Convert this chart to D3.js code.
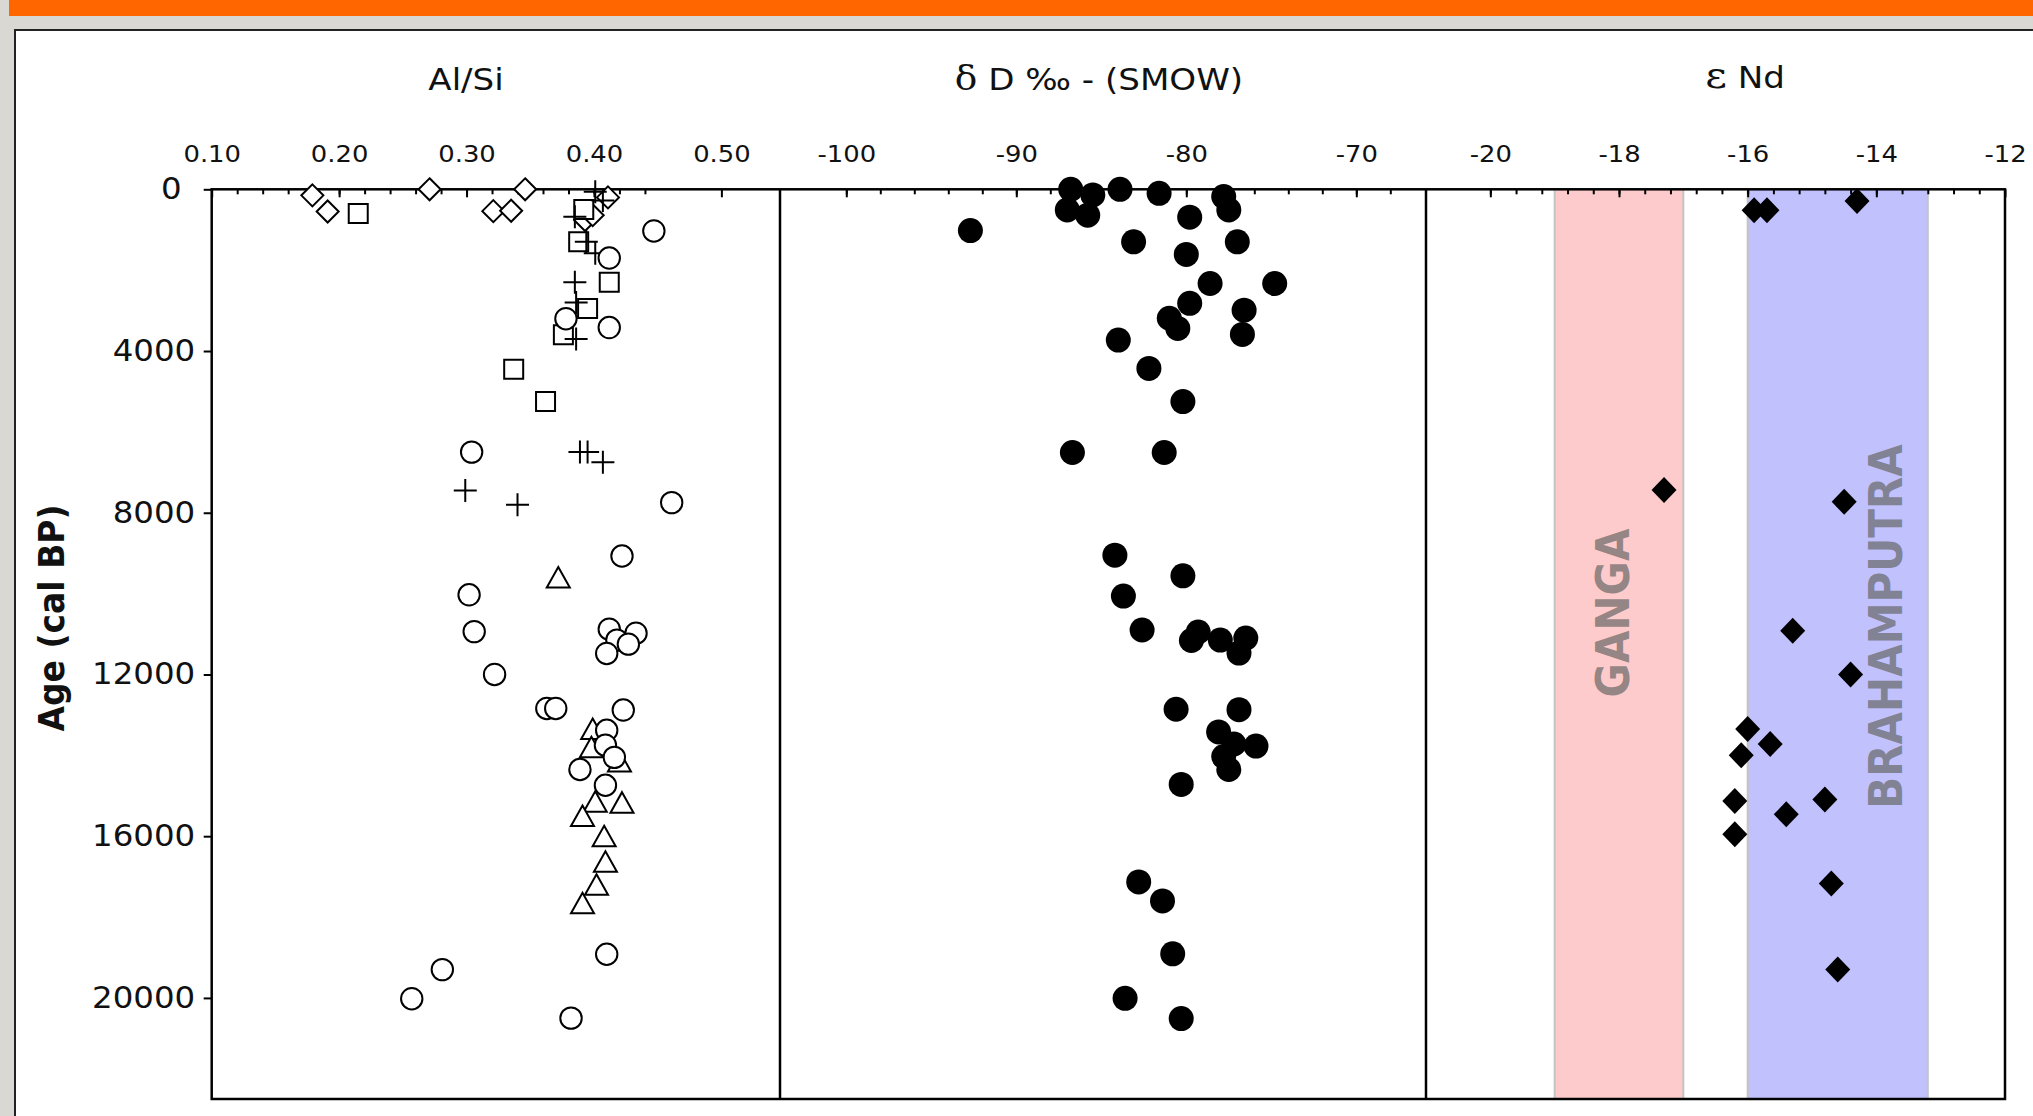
<!DOCTYPE html>
<html>
<head>
<meta charset="utf-8">
<script src="https://cdn.jsdelivr.net/npm/d3@7"></script>
<style>
  body { margin: 0; background: #d9d8d3; }
  svg { display: block; font-family: "DejaVu Sans", Verdana, sans-serif; }
</style>
</head>
<body>
<script>
// Tick labels
const ageTicks = [0, 4000, 8000, 12000, 16000, 20000];
const alsiTicks = [0.10, 0.20, 0.30, 0.40, 0.50];
const ddTicks = [-100, -90, -80, -70];
const ndTicks = [-20, -18, -16, -14, -12];

// Al/Si, one list per marker type: [Al/Si, age cal BP]
const alsiDiamond = [[0.179,150],[0.191,550],[0.271,0],[0.321,540],[0.335,530],[0.346,0],[0.393,760],[0.399,640],[0.411,200]];
const alsiSquare = [[0.215,600],[0.392,500],[0.388,1300],[0.412,2300],[0.395,2950],[0.376,3600],[0.337,4450],[0.362,5250]];
const alsiPlus = [[0.401,60],[0.407,280],[0.385,680],[0.394,1300],[0.401,1580],[0.385,2300],[0.386,2800],[0.386,3700],
                  [0.389,6500],[0.395,6500],[0.407,6750],[0.299,7450],[0.340,7800]];
const alsiTriangle = [[0.372,9600],[0.399,13350],[0.398,13800],[0.420,14150],[0.401,15150],[0.422,15170],[0.391,15500],
                      [0.408,16000],[0.409,16630],[0.402,17200],[0.391,17660]];
const alsiCircle = [[0.447,1030],[0.412,1700],[0.378,3200],[0.412,3420],[0.304,6500],[0.461,7750],[0.422,9070],[0.302,10030],
                    [0.306,10940],[0.412,10880],[0.418,11150],[0.433,10980],[0.427,11250],[0.410,11480],[0.322,12000],
                    [0.363,12840],[0.370,12840],[0.423,12880],[0.410,13380],[0.409,13750],[0.416,14050],[0.389,14350],
                    [0.409,14740],[0.410,18920],[0.281,19300],[0.257,20020],[0.382,20500]];

// delta D (permil SMOW): [value, age]
const deltaD = [[-92.7,1020],[-86.8,0],[-85.5,140],[-83.9,0],[-81.6,100],[-87.0,510],[-85.8,640],[-77.8,180],[-77.5,510],
                [-79.8,690],[-83.1,1300],[-77.0,1300],[-80.0,1610],[-78.6,2330],[-74.8,2330],[-79.8,2820],[-76.6,2990],
                [-81.0,3190],[-80.5,3440],[-76.7,3590],[-84.0,3730],[-82.2,4430],[-80.2,5250],[-86.7,6510],[-81.3,6510],
                [-84.2,9050],[-80.2,9560],[-83.7,10060],[-82.6,10900],[-79.7,11160],[-79.3,10950],[-78.0,11150],
                [-76.5,11100],[-76.9,11470],[-80.6,12860],[-76.9,12870],[-78.1,13420],[-77.2,13720],[-75.9,13770],
                [-77.8,14030],[-77.5,14350],[-80.3,14720],[-82.8,17130],[-81.4,17600],[-80.8,18910],[-83.6,20010],[-80.3,20510]];

// epsilon Nd: [value, age]
const epsNd = [[-15.9,520],[-15.7,520],[-14.3,290],[-17.3,7440],[-14.5,7730],[-15.3,10920],[-14.4,12000],[-16.0,13350],
               [-15.65,13720],[-16.1,14000],[-16.2,15130],[-14.8,15090],[-15.4,15460],[-16.2,15950],[-14.7,17170],[-14.6,19300]];

// source bands on the eNd panel
const bandNames = ["GANGA", "BRAHAMPUTRA"];
const bandFrom = [-19, -16];
const bandTo = [-17, -13.2];
const bandColors = ["#fdcbcb", "#c1c1fd"];

const W = 2033, H = 1116;
const plotTop = 189.3, plotBottom = 1099;
const stretch = "scale(1.1,1)";
const plain = d => String(d);   // hyphen minus, like the original

const svg = d3.select("body").append("svg")
              .attr("width", W)
              .attr("height", H);

// Page background
svg.append("rect").attr("width", W).attr("height", H).attr("fill", "#d9d8d3");
svg.append("rect").attr("x", 9).attr("y", 0).attr("width", W).attr("height", 16).attr("fill", "#ff6600");
svg.append("rect").attr("x", 15).attr("y", 30).attr("width", W + 50).attr("height", H)
   .attr("fill", "#fff").attr("stroke", "#222").attr("stroke-width", 2);

// Scales
const yScale = d3.scaleLinear().domain([0, 22500]).range([plotTop, plotBottom]);
const x1 = d3.scaleLinear().domain([0.10, 0.546]).range([211.7, 780]);
const x2 = d3.scaleLinear().domain([-103.9, -65.9]).range([780, 1426]);
const x3 = d3.scaleLinear().domain([-21, -12]).range([1426, 2005]);

// Bands
const bands = svg.append("g");
bandNames.forEach((name, i) => {
  bands.append("rect")
       .attr("x", x3(bandFrom[i]))
       .attr("y", plotTop)
       .attr("width", x3(bandTo[i]) - x3(bandFrom[i]))
       .attr("height", plotBottom - plotTop)
       .attr("fill", bandColors[i]);
  [bandFrom[i], bandTo[i]].forEach(v => {
    bands.append("line")
         .attr("x1", x3(v)).attr("x2", x3(v))
         .attr("y1", plotTop).attr("y2", plotBottom)
         .attr("stroke", "#c4c4c4").attr("stroke-width", 2);
  });
});

bands.append("text")
     .attr("transform", "translate(1629,613) " + stretch + " rotate(-90)")
     .attr("text-anchor", "middle")
     .attr("font-weight", "bold").attr("font-size", 42)
     .attr("fill", "#666").attr("fill-opacity", 0.7)
     .text(bandNames[0]);
bands.append("text")
     .attr("transform", "translate(1902,626.5) " + stretch + " rotate(-90)")
     .attr("text-anchor", "middle")
     .attr("font-weight", "bold").attr("font-size", 42)
     .attr("fill", "#666").attr("fill-opacity", 0.7)
     .text(bandNames[1]);

// Top axes (ticks point into the plot)
function topAxis(scale, majors, minors, fmt) {
  svg.append("g")
     .attr("transform", "translate(0," + plotTop + ")")
     .call(d3.axisTop(scale).tickValues(minors).tickSizeInner(-5).tickSizeOuter(0).tickFormat(""))
     .call(g => g.select(".domain").remove())
     .selectAll("line").attr("stroke-width", 2);
  const g = svg.append("g")
     .attr("transform", "translate(0," + plotTop + ")")
     .call(d3.axisTop(scale).tickValues(majors).tickSizeInner(-8).tickSizeOuter(0).tickPadding(27).tickFormat(fmt));
  g.select(".domain").remove();
  g.selectAll("line").attr("stroke-width", 2);
  g.selectAll("text")
   .attr("font-family", "DejaVu Sans").attr("font-size", 23.5).attr("fill", "#111")
   .attr("transform", stretch);
}

topAxis(x1, alsiTicks, d3.range(6, 23).map(i => i * 0.02), d3.format(".2f"));
topAxis(x2, ddTicks, d3.range(-100, -67, 2), plain);
topAxis(x3, ndTicks, d3.range(0, 20).map(i => -20 + i * 0.4), plain);

// Left axis
const yAxisG = svg.append("g")
   .attr("transform", "translate(" + x1.range()[0] + ",0)")
   .call(d3.axisLeft(yScale).tickValues(ageTicks).tickSize(8).tickFormat(plain));
yAxisG.select(".domain").remove();
yAxisG.selectAll("line").attr("stroke-width", 2);
yAxisG.selectAll("text")
      .attr("x", 0)
      .attr("font-family", "DejaVu Sans").attr("font-size", 29.5).attr("fill", "#111")
      .attr("transform", d => "translate(" + (d === 0 ? -30 : -16.5) + ",0) " + stretch);

// Frame and panel dividers
svg.append("rect")
   .attr("x", x1.range()[0]).attr("y", plotTop)
   .attr("width", x3.range()[1] - x1.range()[0]).attr("height", plotBottom - plotTop)
   .attr("fill", "none").attr("stroke", "#000").attr("stroke-width", 2.5);
[x1.range()[1], x2.range()[1]].forEach(x => {
  svg.append("line").attr("x1", x).attr("x2", x).attr("y1", plotTop).attr("y2", plotBottom)
     .attr("stroke", "#000").attr("stroke-width", 2.5);
});

// Titles
function title(x, y, parts) {
  const t = svg.append("text")
     .attr("transform", "translate(" + x + "," + y + ") " + stretch)
     .attr("text-anchor", "middle")
     .attr("font-size", 31).attr("fill", "#111");
  parts.forEach(p => {
    t.append("tspan").attr("font-family", p[1] || "DejaVu Sans").attr("font-size", p[2] || 31).text(p[0]);
  });
}
title(466, 90, [["Al/Si"]]);
title(1099, 90, [["δ", "DejaVu Serif", 34], [" D ‰ - (SMOW)"]]);
title(1745, 88, [["ε", "DejaVu Serif", 38], [" Nd"]]);

svg.append("text")
   .attr("transform", "translate(63.8,618) " + stretch + " rotate(-90)")
   .attr("text-anchor", "middle")
   .attr("font-weight", "bold").attr("font-size", 33).attr("fill", "#111")
   .text("Age (cal BP)");

// Markers
const shapes = {
  diamond: "M0,-11L11,0L0,11L-11,0Z",
  square: "M-9.5,-9.5H9.5V9.5H-9.5Z",
  plus: "M-11.5,0H11.5M0,-11.5V11.5",
  triangle: "M0,-10.5L11.5,10L-11.5,10Z",
  circle: d3.symbol(d3.symbolCircle, Math.PI * 10.7 * 10.7)()
};

function openMarkers(data, shape) {
  svg.append("g")
     .selectAll("path")
     .data(data)
     .enter()
     .append("path")
     .attr("d", shapes[shape])
     .attr("transform", d => "translate(" + x1(d[0]) + "," + yScale(d[1]) + ")")
     .attr("fill", shape === "plus" ? "none" : "#fff")
     .attr("stroke", "#000")
     .attr("stroke-width", 2);
}
openMarkers(alsiDiamond, "diamond");
openMarkers(alsiSquare, "square");
openMarkers(alsiPlus, "plus");
openMarkers(alsiTriangle, "triangle");
openMarkers(alsiCircle, "circle");

svg.append("g")
   .selectAll("circle")
   .data(deltaD)
   .enter()
   .append("circle")
   .attr("cx", d => x2(d[0]))
   .attr("cy", d => yScale(d[1]))
   .attr("r", 12.5)
   .attr("fill", "#000");

svg.append("g")
   .selectAll("path")
   .data(epsNd)
   .enter()
   .append("path")
   .attr("d", "M0,-13L12.5,0L0,13L-12.5,0Z")
   .attr("transform", d => "translate(" + x3(d[0]) + "," + yScale(d[1]) + ")")
   .attr("fill", "#000");
</script>
</body>
</html>
